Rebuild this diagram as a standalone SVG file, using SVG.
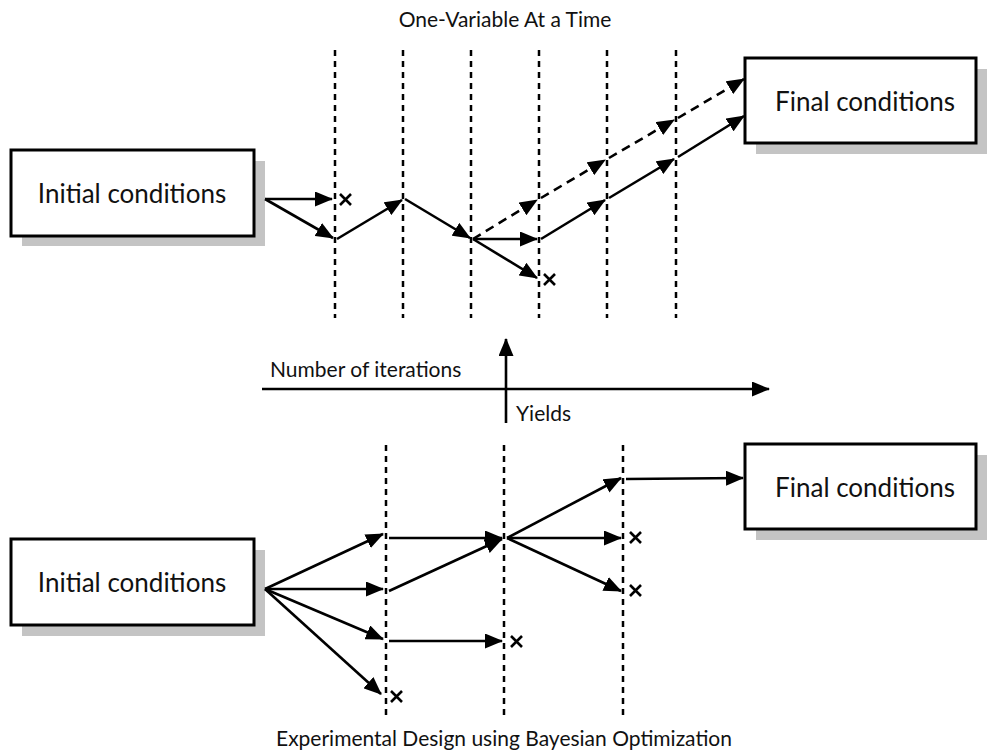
<svg xmlns="http://www.w3.org/2000/svg" width="987" height="752" viewBox="0 0 987 752">
<style>
text{font-family:Lato,"Open Sans","Liberation Sans",sans-serif;fill:#111}
.box{fill:#fff;stroke:#000;stroke-width:3}
.sh{fill:#c4c4c4}
.lbl{font-size:26px;text-anchor:middle}
.ttl{font-size:21px;text-anchor:middle}
.ax{font-size:21px}
.grid{stroke:#000;stroke-width:2.5;stroke-dasharray:6,5;fill:none}
.ar{stroke:#000;stroke-width:2.6;fill:none;marker-end:url(#ah)}
.dar{stroke:#000;stroke-width:2.6;fill:none;stroke-dasharray:9,6;marker-end:url(#ah)}
.x{stroke:#000;stroke-width:2.6;fill:none}
</style>
<defs>
<marker id="ah" viewBox="0 0 18 15" refX="17" refY="7.5" markerWidth="18" markerHeight="15" markerUnits="userSpaceOnUse" orient="auto">
<path d="M0,0 L18,7.5 L0,15 z" fill="#000"/>
</marker>
</defs>
<rect width="987" height="752" fill="#fff"/>
<text class="ttl" x="505" y="27">One-Variable At a Time</text>
<text class="ttl" x="504" y="746">Experimental Design using Bayesian Optimization</text>
<g id="grid-top">
<line class="grid" x1="335" y1="50" x2="335" y2="318"/>
<line class="grid" x1="403" y1="50" x2="403" y2="318"/>
<line class="grid" x1="471" y1="50" x2="471" y2="318"/>
<line class="grid" x1="539" y1="50" x2="539" y2="318"/>
<line class="grid" x1="607" y1="50" x2="607" y2="318"/>
<line class="grid" x1="676" y1="50" x2="676" y2="318"/>
</g>
<g id="grid-bottom">
<line class="grid" x1="386" y1="445" x2="386" y2="716"/>
<line class="grid" x1="504" y1="445" x2="504" y2="716"/>
<line class="grid" x1="623" y1="445" x2="623" y2="716"/>
</g>
<g id="init-top">
<rect class="sh" x="22" y="161" width="243" height="85"/>
<rect class="box" x="11" y="150" width="243" height="86"/>
<text class="lbl" x="132" y="203">Initial conditions</text>
</g>
<g id="final-top">
<rect class="sh" x="756" y="69" width="231" height="85"/>
<rect class="box" x="745" y="58" width="231" height="85"/>
<text class="lbl" x="865" y="111">Final conditions</text>
</g>
<g id="init-bottom">
<rect class="sh" x="22" y="550" width="243" height="86"/>
<rect class="box" x="11" y="539" width="243" height="86"/>
<text class="lbl" x="132" y="592">Initial conditions</text>
</g>
<g id="final-bottom">
<rect class="sh" x="756" y="455" width="231" height="85"/>
<rect class="box" x="745" y="444" width="231" height="85"/>
<text class="lbl" x="865" y="497">Final conditions</text>
</g>
<g id="axes">
<line class="ar" x1="262" y1="389" x2="769" y2="389"/>
<line class="ar" x1="506" y1="423" x2="506" y2="339"/>
<text class="ax" x="270" y="377">Number of iterations</text>
<text class="ax" x="516" y="421">Yields</text>
</g>
<g id="connectors">
<line class="ar" x1="265" y1="199" x2="332" y2="199"/>
<line class="ar" x1="265" y1="199" x2="333" y2="238"/>
<line class="ar" x1="337" y1="239" x2="402" y2="200"/>
<line class="ar" x1="405" y1="199" x2="470" y2="238"/>
<line class="ar" x1="473" y1="239" x2="537" y2="239"/>
<line class="ar" x1="473" y1="239" x2="537" y2="278"/>
<line class="dar" x1="473" y1="239" x2="537" y2="200"/>
<line class="dar" x1="541" y1="198" x2="605" y2="160"/>
<line class="dar" x1="609" y1="158" x2="674" y2="120"/>
<line class="dar" x1="678" y1="118" x2="744" y2="79"/>
<line class="ar" x1="541" y1="239" x2="605" y2="200"/>
<line class="ar" x1="609" y1="198" x2="674" y2="159"/>
<line class="ar" x1="678" y1="157" x2="744" y2="116"/>
<line class="ar" x1="265" y1="589" x2="383" y2="534"/>
<line class="ar" x1="265" y1="589" x2="383" y2="589"/>
<line class="ar" x1="265" y1="589" x2="383" y2="639"/>
<line class="ar" x1="265" y1="589" x2="381" y2="694"/>
<line class="ar" x1="389" y1="538" x2="502" y2="538"/>
<line class="ar" x1="389" y1="591" x2="502" y2="539"/>
<line class="ar" x1="389" y1="641" x2="502" y2="641"/>
<line class="ar" x1="507" y1="538" x2="621" y2="478"/>
<line class="ar" x1="507" y1="538" x2="621" y2="538"/>
<line class="ar" x1="507" y1="538" x2="621" y2="591"/>
<line class="ar" x1="626" y1="479" x2="743" y2="478"/>
</g>
<g id="rejects">
<path class="x" d="M340,194 l11,11 M351,194 l-11,11"/>
<path class="x" d="M544,274 l11,11 M555,274 l-11,11"/>
<path class="x" d="M391,691 l11,11 M402,691 l-11,11"/>
<path class="x" d="M511,636 l11,11 M522,636 l-11,11"/>
<path class="x" d="M630,532 l11,11 M641,532 l-11,11"/>
<path class="x" d="M630,585 l11,11 M641,585 l-11,11"/>
</g>
</svg>
